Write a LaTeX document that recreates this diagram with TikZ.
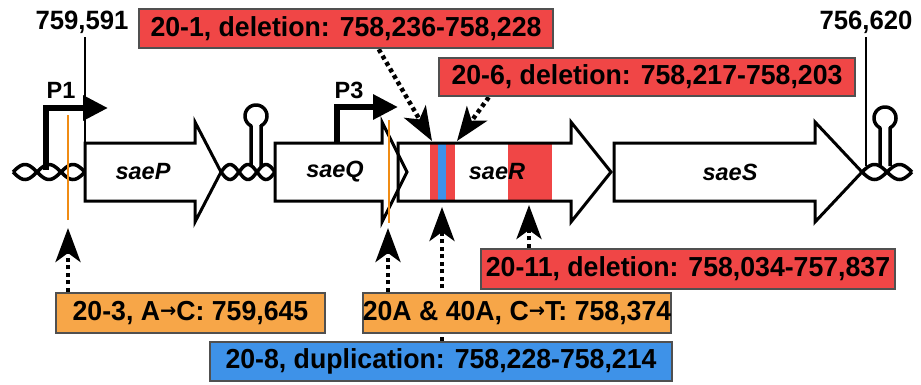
\documentclass[tikz,border=0pt]{standalone}
\usepackage{fontspec}
\usepackage{graphicx}
\setmainfont{Liberation Sans}
\newfontfamily\dejavu{DejaVu Sans}
\usetikzlibrary{arrows.meta,calc}
\definecolor{myred}{RGB}{240,70,70}
\definecolor{myorange}{RGB}{247,166,72}
\definecolor{myblue}{RGB}{62,146,232}
\definecolor{myborder}{RGB}{80,80,80}
\definecolor{oline}{RGB}{240,140,20}
\pgfdeclarelayer{fg}
\pgfsetlayers{main,fg}
\newcommand\genepath[4]{(#1,#4-29) -- (#2,#4-29) -- (#2,#4-50) -- (#3,#4) -- (#2,#4+50) -- (#2,#4+29) -- (#1,#4+29) -- cycle}
\newcommand\hairpinpath[3]{(#1+5,#3) -- (#1+5,#2+9.53) -- plot[domain=27:333,samples=50] ({#1+11*sin(\x)},{#2+11*cos(\x)}) -- (#1-5,#3)}
\newcommand\bt[1]{\scalebox{0.97}[1]{#1}}
\newcommand\ar{\raisebox{3.2pt}{\fontsize{20}{20}\selectfont\dejavu →}}
\begin{document}
\begin{tikzpicture}[x=1pt,y=-1pt,
  lbl/.style={draw=myborder, line width=2.5pt, inner sep=0pt, font=\fontsize{27.5}{29}\selectfont\bfseries, text=black, anchor=center},
  genefill/.style={fill=white},
  geneline/.style={draw=black, line width=3pt, line join=miter},
  genelab/.style={font=\fontsize{23.5}{25}\selectfont\bfseries\itshape},
  plab/.style={font=\fontsize{23.5}{25}\selectfont\bfseries},
  numlab/.style={font=\fontsize{26.5}{28}\selectfont\bfseries},
  dotarrow/.style={line width=4.5pt, dash pattern=on 4pt off 3.5pt, -{Stealth[length=34pt,width=25pt,inset=9pt]}},
  twist/.style={line width=3.5pt, black},
  hairpin/.style={line width=3.5pt, black, line join=round},
  prom/.style={line width=6pt, line join=miter, -{Triangle[length=25pt,width=24pt]}},
  mutline/.style={draw=oline, line width=2.5pt},
  coordline/.style={draw=black, line width=2pt}
]
\useasboundingbox (0,0) rectangle (921,384);

% DNA twists
\foreach \a/\b/\L in {13/85/24, 221/275/18, 862/912/25}{
  \draw[twist] plot[domain=\a:\b, samples=60, smooth] (\x, {172+7.5*sin(180*(\x-\a)/\L)});
  \draw[twist] plot[domain=\a:\b, samples=60, smooth] (\x, {172-7.5*sin(180*(\x-\a)/\L)});
}
% hairpins
\draw[hairpin] \hairpinpath{256}{116}{166};
\draw[hairpin] \hairpinpath{885}{118}{166};

% promoters
\draw[prom] (46,170) -- (46,108) -- (108,108);
\draw[prom] (337,143) -- (337,107) -- (398,107);
\node[plab] (P1) at (61,90) {P1};
\node[plab] (P3) at (349,90) {P3};

% genes: fills
\fill[genefill] \genepath{85}{195}{221}{172};
\fill[genefill] \genepath{398}{571}{611}{172};
\fill[genefill] \genepath{275}{382}{407}{172};
\fill[genefill] \genepath{614}{815}{862}{172};
% bands in saeR
\fill[myred] (430,143) rectangle (455,201);
\fill[myblue] (438,143) rectangle (446,201);
\fill[myred] (508,143) rectangle (552,201);
% outlines
\draw[geneline] \genepath{85}{195}{221}{172};
\draw[geneline] \genepath{398}{571}{611}{172};
\draw[geneline] \genepath{275}{382}{407}{172};
\draw[geneline] \genepath{614}{815}{862}{172};

\node[genelab] (gP) at (143,172) {saeP};
\node[genelab] (gQ) at (335,172) {saeQ};
\node[genelab] (gR) at (497,172) {saeR};
\node[genelab] (gS) at (730,172) {saeS};

% point mutations
\draw[mutline] (68,115) -- (68,220);
\draw[mutline] (389,120) -- (389,223);

% coordinates
\node[numlab] (c1) at (82,22) {\bt{759,591}};
\node[numlab] (c2) at (866,22) {\bt{756,620}};
\draw[coordline] (85,37) -- (85,143);
\draw[coordline] (866,37) -- (866,166);

% boxes
\begin{pgfonlayer}{fg}
\node[lbl, fill=myred, minimum width=414pt, minimum height=39pt] (b201) at (346,28.5) {\bt{20-1, deletion: 758,236-758,228}};
\node[lbl, fill=myred, minimum width=416pt, minimum height=38pt] (b206) at (647,77) {\bt{20-6, deletion: 758,217-758,203}};
\node[lbl, fill=myred, minimum width=414pt, minimum height=40pt] (b2011) at (688,269) {\bt{20-11, deletion: 758,034-757,837}};
\node[lbl, fill=myorange, minimum width=269pt, minimum height=40pt] (b203) at (190.5,313) {\bt{20-3, A\ar C: 759,645}};
\node[lbl, fill=myorange, minimum width=286pt, minimum height=40pt] (b20A) at (517,313) {\bt{20A \& 40A, C\ar T: 758,374}};
\node[lbl, fill=myblue, minimum width=462pt, minimum height=39pt] (b208) at (441,361.5) {\bt{20-8, duplication: 758,228-758,214}};
\end{pgfonlayer}

% arrow targets
\coordinate (t201) at (432,141);
\coordinate (t206) at (457,141);
\coordinate (t203) at (68,228);
\coordinate (t20A) at (388,228);
\coordinate (t208) at (442,207);
\coordinate (t2011) at (529,205);

\draw[dotarrow] ([xshift=241pt]b201.south west) -- (t201);
\draw[dotarrow] ([xshift=51pt]b206.south west) -- (t206);
\draw[dotarrow] (b203.north -| t203) -- (t203);
\draw[dotarrow] (b20A.north -| t20A) -- (t20A);
\draw[dotarrow] (b208.north -| t208) -- (t208);
\draw[dotarrow] (b2011.north -| t2011) -- (t2011);
\end{tikzpicture}
\end{document}
